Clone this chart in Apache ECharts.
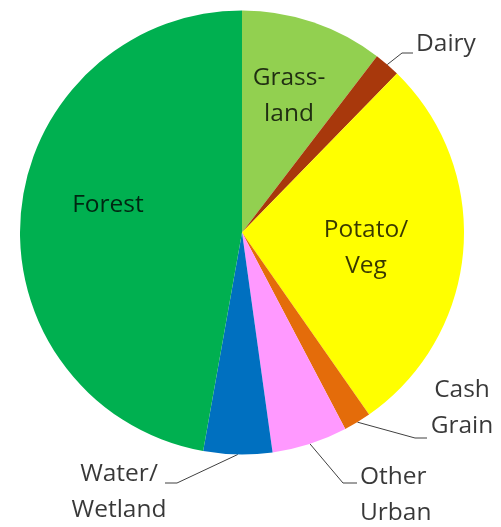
<!DOCTYPE html>
<html><head><meta charset="utf-8">
<script src="https://cdn.jsdelivr.net/npm/echarts@6/dist/echarts.min.js"></script>
<style>html,body{margin:0;padding:0;background:#fff}#c{width:501px;height:527px}</style>
</head><body><div id="c"></div>
<script>
// ---- data ----
const categories = ['Grass-\nland', 'Dairy', 'Potato/\nVeg', 'Cash\nGrain', 'Other\nUrban', 'Water/\nWetland', 'Forest'];
const values = [10.4, 1.9, 28.0, 2.0, 5.5, 5.0, 47.2];
const colors = ['#92D050', '#A8380C', '#FFFF00', '#E46C0A', '#FF99FF', '#0070C0', '#00B050'];
const insideLabel = [true, false, true, false, false, false, true];

// ---- label placement (layout, not data) ----
const labelPlace = [
  { x: 289, y: 96, align: 'center' },
  { x: 416, y: 44, align: 'left', line: [[402, 53], [413, 53]] },
  { x: 366, y: 248, align: 'center' },
  { x: 462, y: 408, align: 'center', line: [[415, 438], [427, 438]] },
  { x: 360, y: 495, align: 'left', line: [[343, 483], [357, 483]] },
  { x: 119, y: 492, align: 'center', line: [[177, 483], [165, 483]] },
  { x: 108, y: 205, align: 'center' }
];

const chart = echarts.init(document.getElementById('c'), null, { renderer: 'canvas' });
const data = categories.map((c, i) => ({
  name: c,
  value: values[i],
  itemStyle: { color: colors[i] },
  label: { position: insideLabel[i] ? 'inside' : 'outside' },
  labelLine: { show: !insideLabel[i] }
}));

chart.setOption({
  animation: false,
  series: [{
    type: 'pie',
    center: [242, 232.5],
    radius: [0, 222],
    startAngle: 90,
    clockwise: true,
    avoidLabelOverlap: false,
    silent: true,
    data: data,
    itemStyle: { borderWidth: 0 },
    label: {
      show: true,
      formatter: '{b}',
      fontFamily: 'Open Sans',
      fontSize: 24.5,
      lineHeight: 36,
      color: 'rgba(0,0,0,0.78)',
      textBorderWidth: 0
    },
    labelLine: {
      show: true,
      length: 10,
      length2: 10,
      lineStyle: { color: '#404040', width: 1 }
    },
    labelLayout: function (p) {
      const L = labelPlace[p.dataIndex];
      const out = { x: L.x, y: L.y, align: L.align, verticalAlign: 'middle', hideOverlap: false, moveOverlap: null };
      if (L.line && p.labelLinePoints) {
        out.labelLinePoints = [p.labelLinePoints[0], L.line[0], L.line[1]];
      }
      return out;
    }
  }]
});
</script>
</body></html>
